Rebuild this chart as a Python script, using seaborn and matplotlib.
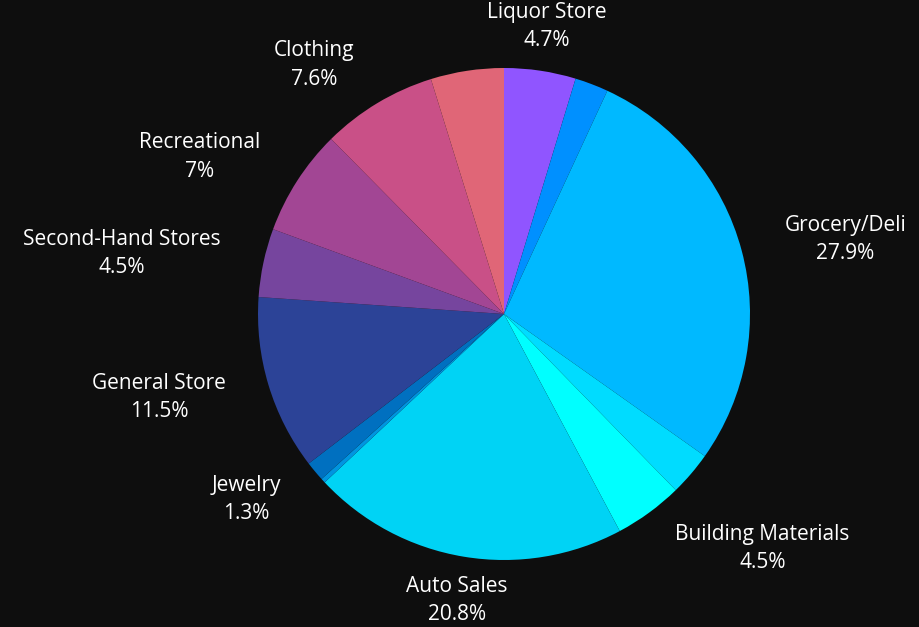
import numpy as np
import matplotlib
matplotlib.use("Agg")
import matplotlib.pyplot as plt
import seaborn as sns

# Share of businesses by category, clockwise from 12 o'clock
categories = ["Liquor Store", "", "Grocery/Deli", "", "Building Materials",
              "Auto Sales", "", "Jewelry", "General Store", "Second-Hand Stores",
              "Recreational", "Clothing", ""]
shares = [4.7, 2.2, 27.9, 2.9, 4.5, 20.8, 0.3, 1.3, 11.5, 4.5, 7.0, 7.6, 4.8]
colors = ["#9055FF", "#0090FF", "#00B9FF", "#00DCFF", "#00FFFF",
          "#00D3F5", "#0095E0", "#0070C0", "#2C4397", "#76459E",
          "#A24694", "#C95087", "#E06677"]

BG = "#0E0E0E"
sns.set_theme(style="dark")
plt.rcParams["font.family"] = ["Open Sans", "DejaVu Sans"]

W, H = 920, 627
fig = plt.figure(figsize=(W / 100, H / 100), dpi=100, facecolor=BG)
ax = fig.add_axes([0, 0, 1, 1], facecolor=BG)

wedges, _ = ax.pie(shares, colors=colors, startangle=90, counterclock=False,
                   wedgeprops=dict(linewidth=0), radius=1.0)

# Category labels placed just outside each labelled wedge
label_r = 1.18
for w, name, val in zip(wedges, categories, shares):
    if not name:
        continue
    mid = np.deg2rad((w.theta1 + w.theta2) / 2)
    x, y = label_r * np.cos(mid), label_r * np.sin(mid)
    if abs(x) < 0.3:
        ha = "center"
    elif x > 0:
        ha = "left"
    else:
        ha = "right"
    txt = f"{val:g}%"
    ax.text(x, y, f"{name}\n{txt}", ha=ha, va="center", multialignment="center",
            color="white", fontsize=15, linespacing=1.45)

# Pixel-true scaling: centre of pie and 246 px radius
cx, cy, r = 504, H - 314, 246
ax.set_xlim(-cx / r, (W - cx) / r)
ax.set_ylim(-cy / r, (H - cy) / r)
ax.set_aspect("auto")
ax.axis("off")

fig.savefig("out.png", dpi=100, facecolor=BG)
